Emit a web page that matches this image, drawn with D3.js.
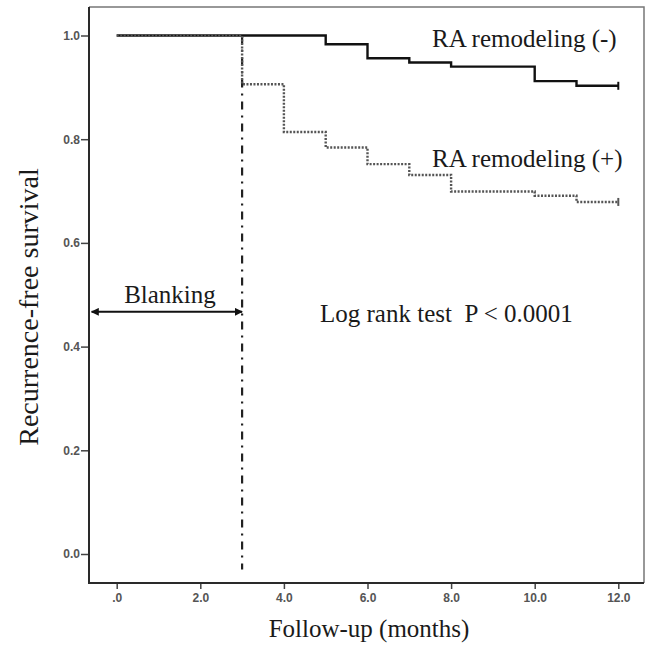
<!DOCTYPE html>
<html>
<head>
<meta charset="utf-8">
<script src="https://cdn.jsdelivr.net/npm/d3@7"></script>
<style>
  body { margin: 0; background: #fff; }
  .serif { font-family: "Liberation Serif", "Times New Roman", serif; fill: #1a1a1a; }
  .tick text { font-family: "Liberation Sans", Arial, sans-serif; font-weight: bold; fill: #555; }
</style>
</head>
<body>
<div id="container"></div>
<script>

// Kaplan-Meier steps
var timesNeg = [0, 5, 6, 7, 8, 10, 11, 12];
var survNeg  = [1.0, 0.983, 0.956, 0.948, 0.940, 0.912, 0.903, 0.903];

var timesPos = [0, 3, 4, 5, 6, 7, 8, 10, 11, 12];
var survPos  = [1.0, 0.906, 0.814, 0.784, 0.752, 0.731, 0.699, 0.691, 0.679, 0.679];

var xTicks = [0, 2, 4, 6, 8, 10, 12];
var xTickLabels = ['.0', '2.0', '4.0', '6.0', '8.0', '10.0', '12.0'];
var yTicks = [0, 0.2, 0.4, 0.6, 0.8, 1.0];
var yTickLabels = ['0.0', '0.2', '0.4', '0.6', '0.8', '1.0'];

var blankingEnd = 3;
var blankingArrow = [-0.6, 3];
var blankingLevel = 0.467;

function chart_start() {

    var svg = d3.select('#container').append('svg:svg')
        .attr('width', 650)
        .attr('height', 645);

    var x = d3.scaleLinear().domain([0, 12]).range([116.7, 618.3]);
    var y = d3.scaleLinear().domain([0, 1]).range([554, 35.5]);

    var frame = {left: 89, right: 644, top: 7, bottom: 583};

    // top + right border, lighter
    svg.append('path')
        .attr('d', 'M' + frame.left + ',' + frame.top + 'H' + frame.right + 'V' + frame.bottom)
        .attr('fill', 'none')
        .attr('stroke', '#777')
        .attr('stroke-width', 1.5);

    // axes
    var yAxis = d3.axisLeft(y)
        .tickValues(yTicks)
        .tickFormat(function(d, i) { return yTickLabels[i]; })
        .tickSize(8)
        .tickPadding(1)
        .tickSizeOuter(0);
    var gy = svg.append('g')
        .attr('transform', 'translate(' + frame.left + ',0)')
        .call(yAxis);
    gy.select('.domain').remove();
    gy.selectAll('.tick line').attr('stroke', '#444').attr('stroke-width', 1.5);
    gy.selectAll('.tick text').style('font-size', '12px');

    var xAxis = d3.axisBottom(x)
        .tickValues(xTicks)
        .tickFormat(function(d, i) { return xTickLabels[i]; })
        .tickSize(6)
        .tickPadding(4)
        .tickSizeOuter(0);
    var gx = svg.append('g')
        .attr('transform', 'translate(0,' + frame.bottom + ')')
        .call(xAxis);
    gx.select('.domain').remove();
    gx.selectAll('.tick line').attr('stroke', '#444').attr('stroke-width', 1.5);
    gx.selectAll('.tick text').style('font-size', '12px');

    // left + bottom axis lines
    svg.append('path')
        .attr('d', 'M' + frame.left + ',' + frame.top + 'V' + frame.bottom + 'H' + frame.right)
        .attr('fill', 'none')
        .attr('stroke', '#2a2a2a')
        .attr('stroke-width', 2);

    // blanking boundary
    svg.append('line')
        .attr('x1', x(blankingEnd)).attr('x2', x(blankingEnd))
        .attr('y1', y(1)).attr('y2', y(-0.03))
        .attr('stroke', '#222')
        .attr('stroke-width', 2.2)
        .attr('stroke-dasharray', '8,6,2,6');

    var line = d3.line()
        .x(function(d) { return x(d[0]); })
        .y(function(d) { return y(d[1]); })
        .curve(d3.curveStepAfter);

    var negPts = d3.zip(timesNeg, survNeg);
    var posPts = d3.zip(timesPos, survPos);

    svg.append('path')
        .attr('d', line(negPts))
        .attr('fill', 'none')
        .attr('stroke', '#111')
        .attr('stroke-width', 2.4);

    svg.append('path')
        .attr('d', line(posPts))
        .attr('fill', 'none')
        .attr('stroke', '#555')
        .attr('stroke-width', 2.4)
        .attr('stroke-dasharray', '2,1.5');

    // censor marks at end of follow-up
    var ends = [
        {t: timesNeg[timesNeg.length - 1], s: survNeg[survNeg.length - 1], c: '#111'},
        {t: timesPos[timesPos.length - 1], s: survPos[survPos.length - 1], c: '#555'}
    ];
    svg.selectAll('line.censor')
        .data(ends)
        .enter().append('line')
        .attr('class', 'censor')
        .attr('x1', function(d) { return x(d.t); })
        .attr('x2', function(d) { return x(d.t); })
        .attr('y1', function(d) { return y(d.s) - 4; })
        .attr('y2', function(d) { return y(d.s) + 4; })
        .attr('stroke', function(d) { return d.c; })
        .attr('stroke-width', 2);

    // blanking arrow
    var defs = svg.append('defs');
    defs.append('marker')
        .attr('id', 'arrow')
        .attr('viewBox', '0 0 10 10')
        .attr('refX', 9).attr('refY', 5)
        .attr('markerWidth', 8).attr('markerHeight', 8)
        .attr('markerUnits', 'userSpaceOnUse')
        .attr('orient', 'auto-start-reverse')
        .append('path')
        .attr('d', 'M0,0L10,5L0,10z')
        .attr('fill', '#111');

    svg.append('line')
        .attr('x1', x(blankingArrow[0])).attr('x2', x(blankingArrow[1]))
        .attr('y1', y(blankingLevel)).attr('y2', y(blankingLevel))
        .attr('stroke', '#111')
        .attr('stroke-width', 2)
        .attr('marker-start', 'url(#arrow)')
        .attr('marker-end', 'url(#arrow)');

    // text
    svg.append('text').attr('class', 'serif')
        .attr('x', 170).attr('y', 303)
        .attr('text-anchor', 'middle')
        .style('font-size', '25px')
        .text('Blanking');

    svg.append('text').attr('class', 'serif')
        .attr('x', 432).attr('y', 47)
        .style('font-size', '25px')
        .text('RA remodeling (-)');

    svg.append('text').attr('class', 'serif')
        .attr('x', 432).attr('y', 167)
        .style('font-size', '25px')
        .text('RA remodeling (+)');

    svg.append('text').attr('class', 'serif')
        .attr('x', 320).attr('y', 322)
        .style('font-size', '25px')
        .attr('xml:space', 'preserve')
        .text('Log rank test  P < 0.0001');

    svg.append('text').attr('class', 'serif')
        .attr('x', 369).attr('y', 637)
        .attr('text-anchor', 'middle')
        .style('font-size', '25px')
        .text('Follow-up (months)');

    svg.append('text').attr('class', 'serif')
        .attr('transform', 'translate(38,307) rotate(-90)')
        .attr('text-anchor', 'middle')
        .style('font-size', '28px')
        .text('Recurrence-free survival');
}

chart_start();
</script>
</body>
</html>
